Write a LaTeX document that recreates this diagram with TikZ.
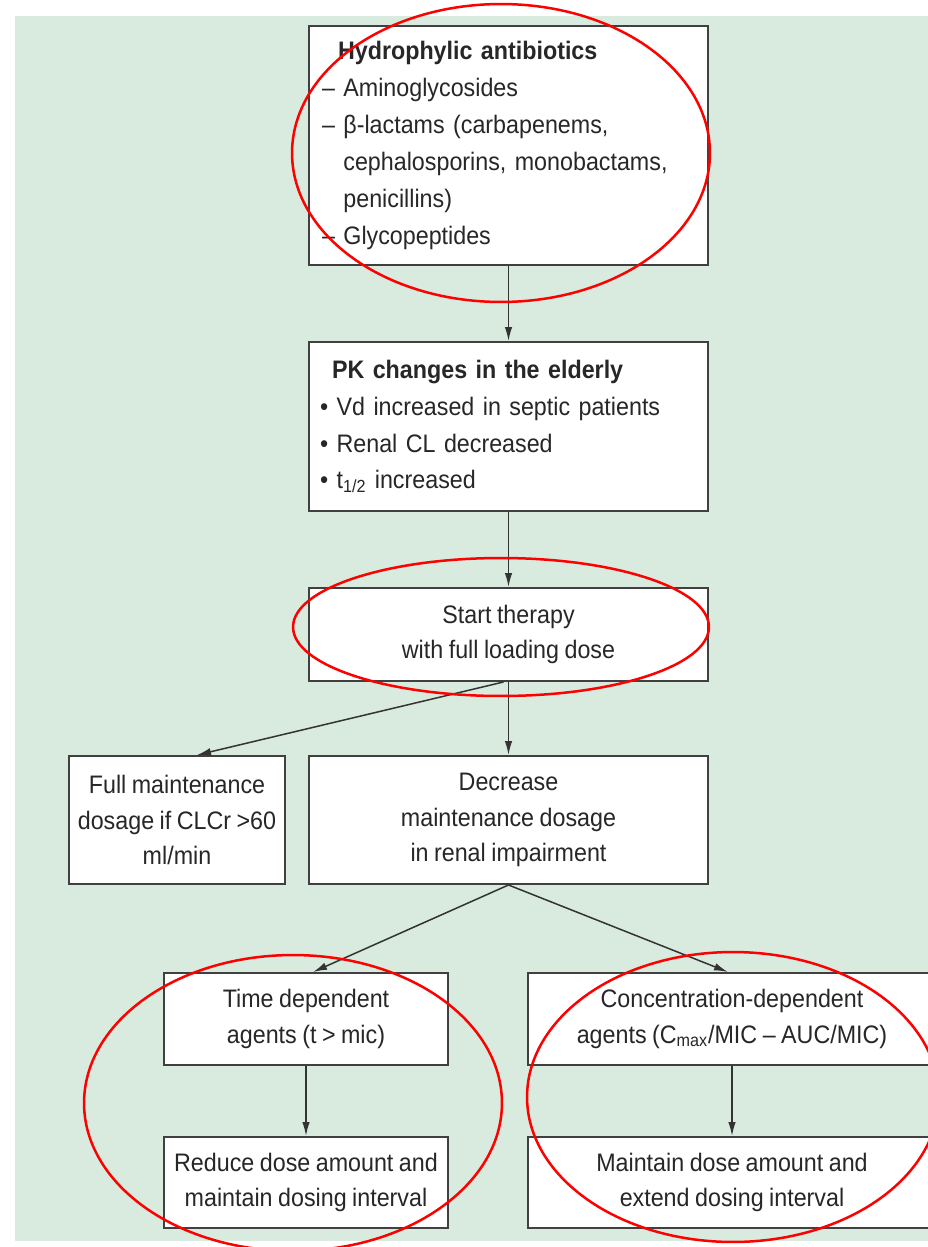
\documentclass[tikz,border=0pt]{standalone}
\usepackage{fontspec}
\setmainfont{Liberation Sans}[FakeStretch=0.92, WordSpace=0.85]
\usepackage{xcolor}
\usetikzlibrary{arrows.meta}
\definecolor{bggreen}{RGB}{216,235,222}
\definecolor{inkgray}{RGB}{40,38,40}

\begin{document}
\begin{tikzpicture}[x=0.02cm, y=-0.02cm,
  font=\fontsize{14.4pt}{20pt}\selectfont,
  box/.style={draw=black!75, line width=0.04cm, fill=white, text=inkgray,
    align=center, inner sep=0pt},
  listbox/.style={box, align=left, inner xsep=0.26cm,
    font=\fontsize{14.4pt}{21pt}\selectfont},
  arr/.style={-{Latex[length=2.8mm, width=1.5mm]}, line width=0.03cm, black!80},
  ring/.style={red, line width=0.05cm}]
\useasboundingbox (0,0) rectangle (928,1247);
\fill[white] (0,0) rectangle (928,1247);
% ---- background panel ----
\fill[bggreen] (15,16) rectangle (940,1241);
% ---- top column ----
\node[listbox, text width=7.46cm, minimum height=4.78cm] (drugs) at (508.5,145.5)
  {\hspace*{0.32cm}\textbf{Hydrophylic antibiotics}\\
   – Aminoglycosides\\
   – β-lactams (carbapenems,\\
   \hphantom{– }cephalosporins, monobactams,\\
   \hphantom{– }penicillins)\\
   – Glycopeptides};
\node[listbox, inner xsep=0.22cm, text width=7.54cm, minimum height=3.38cm] (pk) at (508.5,426.5)
  {\hspace*{0.24cm}\textbf{PK changes in the elderly}\\
   • Vd increased in septic patients\\
   • Renal CL decreased\\
   • t\textsubscript{1/2} increased};
\node[box, minimum width=7.98cm, minimum height=1.86cm] (start) at (508.5,634.5)
  {Start therapy\\ with full loading dose};
% ---- maintenance row ----
\node[box, minimum width=4.32cm, minimum height=2.56cm] (full) at (177,820)
  {Full maintenance\\ dosage if CLCr >60\\ ml/min};
\node[box, minimum width=7.98cm, minimum height=2.56cm] (decr) at (508.5,820)
  {Decrease\\ maintenance dosage\\ in renal impairment};
% ---- agent types ----
\node[box, minimum width=5.68cm, minimum height=1.84cm] (timedep) at (306,1019)
  {Time dependent\\ agents (t > mic)};
\node[box, minimum width=8.16cm, minimum height=1.84cm] (concdep) at (732,1019)
  {Concentration-dependent\\ agents (C\textsubscript{max}/MIC – AUC/MIC)};
\node[box, minimum width=5.68cm, minimum height=1.82cm] (reduce) at (306,1182.5)
  {Reduce dose amount and\\ maintain dosing interval};
\node[box, minimum width=8.16cm, minimum height=1.82cm] (extend) at (732,1182.5)
  {Maintain dose amount and\\ extend dosing interval};
% ---- connectors ----
\draw[arr] (drugs) -- (pk);
\draw[arr] (pk) -- (start);
\draw[arr] (start) -- (decr);
\draw[arr] ([xshift=-0.1cm]start.south) -- ([xshift=0.4cm]full.north);
\draw[arr] (decr.south) -- ([xshift=0.14cm]timedep.north);
\draw[arr] (decr.south) -- ([xshift=-0.08cm]concdep.north);
\draw[arr] (timedep) -- (reduce);
\draw[arr] (concdep) -- (extend);
% ---- red highlight rings ----
\draw[ring] (501,153) ellipse [x radius=4.18cm, y radius=2.98cm];
\draw[ring] (501,627) ellipse [x radius=4.16cm, y radius=1.38cm];
\draw[ring] (293,1103) ellipse [x radius=4.18cm, y radius=2.96cm];
\draw[ring] (733,1097) ellipse [x radius=4.12cm, y radius=2.9cm];
\end{tikzpicture}
\end{document}
